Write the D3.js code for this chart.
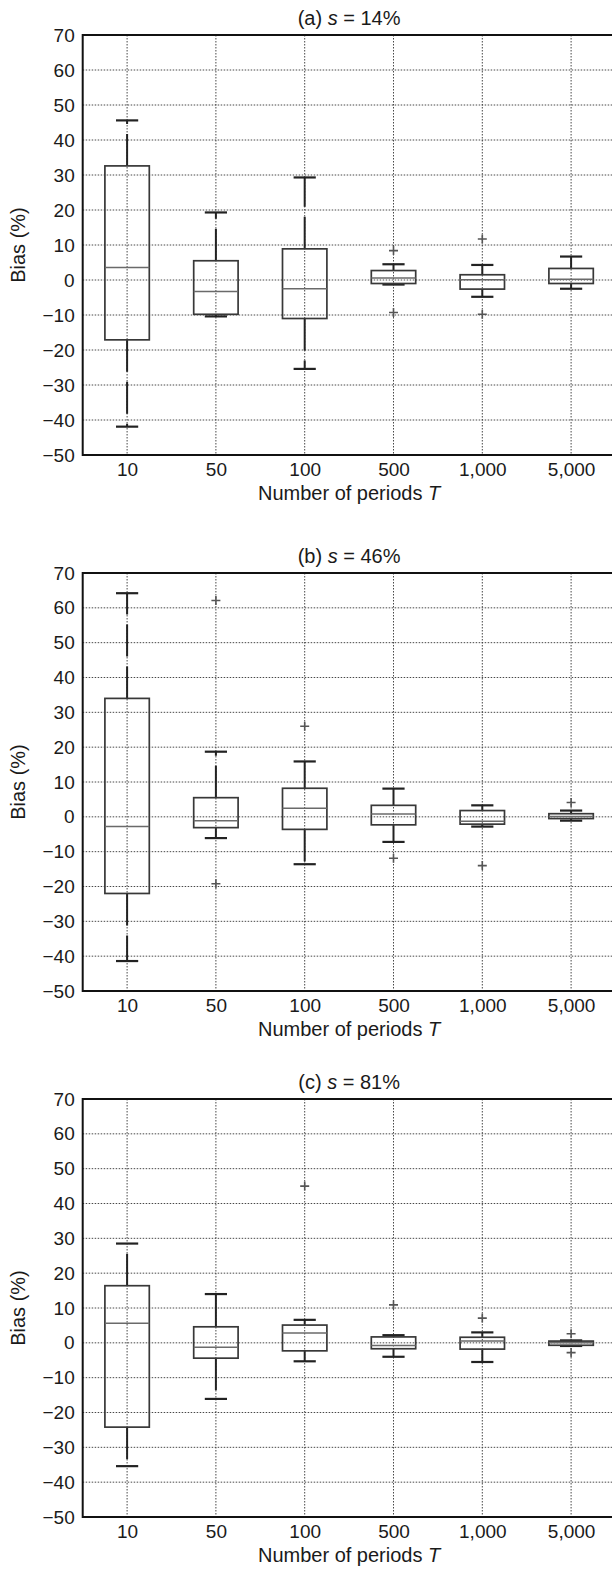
<!DOCTYPE html>
<html>
<head>
<meta charset="utf-8">
<script src="https://cdn.jsdelivr.net/npm/d3@7"></script>
<style>
  html, body { margin: 0; padding: 0; background: #fff; }
  svg { display: block; }
  text { font-family: "Liberation Sans", Arial, Helvetica, sans-serif; fill: #1a1a1a; }
</style>
</head>
<body>
<svg id="chart" width="612" height="1573"></svg>
<script>
// ---------- data ----------
const categories = ["10", "50", "100", "500", "1,000", "5,000"];
const yTicks = [-50, -40, -30, -20, -10, 0, 10, 20, 30, 40, 50, 60, 70];
const panelLetters = ["(a)", "(b)", "(c)"];
const panelShares = ["14%", "46%", "81%"];

// panel (a) s = 14%
const aLow  = [-41.9, -10.4, -25.4, -1.3, -4.8, -2.5];
const aQ1   = [-17.1,  -9.8, -11.0, -1.0, -2.6, -1.0];
const aMed  = [  3.6,  -3.3,  -2.5,  0.6,  0.1,  0.2];
const aQ3   = [ 32.6,   5.5,   8.9,  2.7,  1.5,  3.3];
const aHigh = [ 45.6,  19.3,  29.3,  4.5,  4.3,  6.7];
const aOut  = [["500", 8.4], ["500", -9.3], ["1,000", 11.7], ["1,000", -9.8]];

// panel (b) s = 46%
const bLow  = [-41.4,  -6.1, -13.6, -7.2, -2.8, -1.1];
const bQ1   = [-22.0,  -3.1,  -3.6, -2.3, -2.1, -0.5];
const bMed  = [ -2.8,  -1.1,   2.5,  0.8, -1.3,  0.1];
const bQ3   = [ 34.0,   5.5,   8.2,  3.3,  1.8,  0.9];
const bHigh = [ 64.2,  18.7,  15.9,  8.1,  3.3,  1.8];
const bOut  = [["50", 62.1], ["50", -19.2], ["100", 26.0], ["500", -11.9], ["1,000", -14.0], ["5,000", 4.1]];

// panel (c) s = 81%
const cLow  = [-35.4, -16.1,  -5.3, -4.0, -5.5, -0.9];
const cQ1   = [-24.2,  -4.4,  -2.3, -1.7, -1.8, -0.7];
const cMed  = [  5.6,  -1.3,   2.8, -0.8,  0.5,  0.0];
const cQ3   = [ 16.4,   4.6,   5.1,  1.7,  1.6,  0.5];
const cHigh = [ 28.5,  14.0,   6.6,  2.2,  3.0,  0.7];
const cOut  = [["100", 45.0], ["500", 10.9], ["1,000", 7.1], ["5,000", 2.6], ["5,000", -2.8]];

// ---------- layout ----------
const panels = [
  { low: aLow, q1: aQ1, med: aMed, q3: aQ3, high: aHigh, out: aOut, top: 35,  bottom: 455 },
  { low: bLow, q1: bQ1, med: bMed, q3: bQ3, high: bHigh, out: bOut, top: 573, bottom: 991 },
  { low: cLow, q1: cQ1, med: cMed, q3: cQ3, high: cHigh, out: cOut, top: 1099, bottom: 1517 }
];
const left = 82.7, right = 615.5;

const svg = d3.select("#chart");

const x = d3.scalePoint().domain(categories).range([left, right]).padding(0.5);
const step = x.step();
const boxW = step * 0.5;
const capW = step * 0.25;

panels.forEach((p, pi) => {
  const y = d3.scaleLinear().domain([-50, 70]).range([p.bottom, p.top]);
  const g = svg.append("g");

  // grid
  g.append("g").selectAll("line.hg").data(yTicks.filter(t => t > -50 && t < 70)).join("line")
    .attr("x1", left).attr("x2", right)
    .attr("y1", d => y(d)).attr("y2", d => y(d))
    .attr("stroke", "#333").attr("stroke-width", 0.9).attr("stroke-dasharray", "1.5,1.5");
  g.append("g").selectAll("line.vg").data(categories).join("line")
    .attr("x1", d => x(d)).attr("x2", d => x(d))
    .attr("y1", p.top).attr("y2", p.bottom)
    .attr("stroke", "#333").attr("stroke-width", 0.9).attr("stroke-dasharray", "1.5,1.5");

  // axes
  const yAxis = d3.axisLeft(y).tickValues(yTicks).tickSize(0).tickPadding(8)
    .tickFormat(d => d < 0 ? "\u2212" + Math.abs(d) : String(d));
  const ya = g.append("g").attr("transform", `translate(${left},0)`).call(yAxis);
  ya.select(".domain").remove();
  ya.selectAll("text").attr("font-size", 19).attr("fill", "#1a1a1a")
    .attr("font-family", "'Liberation Sans', Arial, sans-serif");

  const xAxis = d3.axisBottom(x).tickSize(0).tickPadding(8);
  const xa = g.append("g").attr("transform", `translate(0,${p.bottom})`).call(xAxis);
  xa.select(".domain").remove();
  xa.selectAll("text").attr("font-size", 19).attr("fill", "#1a1a1a")
    .attr("font-family", "'Liberation Sans', Arial, sans-serif");

  // frame
  g.append("path")
    .attr("d", `M${right},${p.top}H${left}V${p.bottom}H${right}`)
    .attr("fill", "none").attr("stroke", "#111").attr("stroke-width", 2);

  const rows = categories.map((c, i) => ({ c, low: p.low[i], q1: p.q1[i], med: p.med[i], q3: p.q3[i], high: p.high[i] }));
  const bg = g.append("g");

  // whiskers (dashed)
  bg.selectAll("line.wu").data(rows).join("line")
    .attr("x1", d => x(d.c)).attr("x2", d => x(d.c))
    .attr("y1", d => y(d.q3)).attr("y2", d => y(d.high))
    .attr("stroke", "#222").attr("stroke-width", 2).attr("stroke-dasharray", "32,10");
  bg.selectAll("line.wl").data(rows).join("line")
    .attr("x1", d => x(d.c)).attr("x2", d => x(d.c))
    .attr("y1", d => y(d.q1)).attr("y2", d => y(d.low))
    .attr("stroke", "#222").attr("stroke-width", 2).attr("stroke-dasharray", "32,10");
  // caps
  bg.selectAll("line.cu").data(rows).join("line")
    .attr("x1", d => x(d.c) - capW / 2).attr("x2", d => x(d.c) + capW / 2)
    .attr("y1", d => y(d.high)).attr("y2", d => y(d.high))
    .attr("stroke", "#222").attr("stroke-width", 2.2);
  bg.selectAll("line.cl").data(rows).join("line")
    .attr("x1", d => x(d.c) - capW / 2).attr("x2", d => x(d.c) + capW / 2)
    .attr("y1", d => y(d.low)).attr("y2", d => y(d.low))
    .attr("stroke", "#222").attr("stroke-width", 2.2);
  // boxes
  bg.selectAll("rect.box").data(rows).join("rect")
    .attr("x", d => x(d.c) - boxW / 2).attr("width", boxW)
    .attr("y", d => y(d.q3)).attr("height", d => Math.max(0.5, y(d.q1) - y(d.q3)))
    .attr("fill", "none").attr("stroke", "#383838").attr("stroke-width", 1.7);
  // medians
  bg.selectAll("line.med").data(rows).join("line")
    .attr("x1", d => x(d.c) - boxW / 2).attr("x2", d => x(d.c) + boxW / 2)
    .attr("y1", d => y(d.med)).attr("y2", d => y(d.med))
    .attr("stroke", "#6a6a6a").attr("stroke-width", 1.5);
  // outliers
  const og = bg.selectAll("g.out").data(p.out).join("g")
    .attr("transform", d => `translate(${x(d[0])},${y(d[1])})`);
  og.append("path").attr("d", "M-4.5,0H4.5M0,-4.5V4.5")
    .attr("stroke", "#555").attr("stroke-width", 1.6).attr("fill", "none");

  // title
  const t = g.append("text").attr("x", (left + right) / 2).attr("y", p.top - 10)
    .attr("text-anchor", "middle").attr("font-size", 20);
  t.append("tspan").text(panelLetters[pi] + " ");
  t.append("tspan").attr("font-style", "italic").text("s");
  t.append("tspan").text(" = " + panelShares[pi]);

  // x label
  const xl = g.append("text").attr("x", (left + right) / 2).attr("y", p.bottom + 45)
    .attr("text-anchor", "middle").attr("font-size", 20);
  xl.append("tspan").text("Number of periods ");
  xl.append("tspan").attr("font-style", "italic").text("T");

  // y label
  g.append("text")
    .attr("transform", `translate(25,${(p.top + p.bottom) / 2}) rotate(-90)`)
    .attr("text-anchor", "middle").attr("font-size", 20).text("Bias (%)");
});
</script>
</body>
</html>
